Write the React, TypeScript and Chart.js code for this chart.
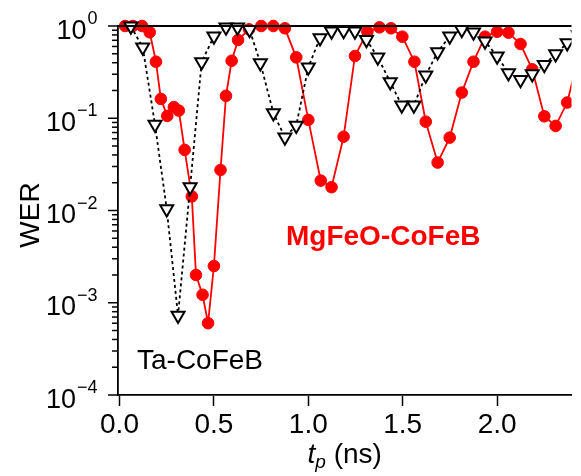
import React, { useEffect, useRef } from "react";
import { Chart, registerables } from "chart.js";

Chart.register(...registerables);

const FONT = "'Liberation Sans', Arial, Helvetica, sans-serif";

// MgFeO-CoFeB (red circles)
const mgX = [
  0.03, 0.07, 0.12, 0.16, 0.193, 0.219, 0.253, 0.288, 0.314, 0.345, 0.383, 0.405,
  0.44, 0.469, 0.5, 0.535, 0.564, 0.594, 0.628, 0.686, 0.751, 0.815, 0.876, 0.936,
  1.0, 1.066, 1.123, 1.187, 1.247, 1.313, 1.377, 1.438, 1.498, 1.562, 1.622, 1.685,
  1.749, 1.813, 1.875, 1.936, 2.0, 2.06, 2.124, 2.186, 2.25, 2.31, 2.371, 2.43,
];
const mgWER = [
  1.0, 1.0, 1.0, 0.855, 0.41, 0.162, 0.106, 0.132, 0.121, 0.0454, 0.0142, 0.002,
  0.00122, 0.0006, 0.0025, 0.0275, 0.175, 0.42, 0.705, 0.92, 1.0, 1.0, 0.944, 0.457,
  0.096, 0.0211, 0.0179, 0.063, 0.473, 0.867, 0.968, 0.944, 0.766, 0.41, 0.0918, 0.0331,
  0.0617, 0.19, 0.41, 0.766, 0.867, 0.847, 0.638, 0.339, 0.105, 0.0826, 0.148, 0.45,
];

// Ta-CoFeB (open inverted triangles)
const taX = [
  0.06, 0.123, 0.188, 0.25, 0.31, 0.374, 0.435, 0.5, 0.564, 0.625, 0.689, 0.746,
  0.815, 0.876, 0.936, 1.0, 1.062, 1.123, 1.187, 1.247, 1.308, 1.368, 1.434, 1.495,
  1.559, 1.622, 1.685, 1.749, 1.813, 1.875, 1.936, 2.0, 2.06, 2.124, 2.186, 2.25,
  2.31, 2.371, 2.43,
];
const taWER = [
  0.993, 0.588, 0.0853, 0.0104, 0.000727, 0.018, 0.407, 0.773, 0.968, 0.968, 0.912, 0.397,
  0.114, 0.0622, 0.0832, 0.357, 0.741, 0.876, 0.889, 0.876, 0.711, 0.458, 0.247, 0.138,
  0.138, 0.292, 0.523, 0.773, 0.912, 0.855, 0.683, 0.47, 0.31, 0.262, 0.302, 0.381,
  0.497, 0.654, 0.8,
];

const xTicks = [0, 0.5, 1.0, 1.5, 2.0];
const yDecades = [0, -1, -2, -3, -4];

export default function App() {
  const ref = useRef<HTMLCanvasElement>(null);

  useEffect(() => {
    const canvas = ref.current;
    if (!canvas) return;

    const decor = {
      id: "decor",
      afterDraw(chart: any) {
        const { ctx, chartArea, scales } = chart;
        const y = scales.y;
        ctx.save();
        ctx.strokeStyle = "#000";
        ctx.lineWidth = 1.8;
        // top frame line
        ctx.beginPath();
        ctx.moveTo(chartArea.left, chartArea.top);
        ctx.lineTo(chartArea.right, chartArea.top);
        ctx.stroke();
        // y ticks (major + minor)
        ctx.lineWidth = 1.5;
        for (const d of yDecades) {
          for (let m = 1; m <= 9; m++) {
            const v = m * Math.pow(10, d);
            if (v > 1.0001) continue;
            const py = y.getPixelForValue(v);
            const len = m === 1 ? 10 : 6;
            ctx.beginPath();
            ctx.moveTo(chartArea.left - len, py);
            ctx.lineTo(chartArea.left, py);
            ctx.stroke();
          }
        }
        // y tick labels 10^k
        ctx.fillStyle = "#000";
        ctx.textBaseline = "alphabetic";
        ctx.textAlign = "right";
        for (const d of yDecades) {
          const py = y.getPixelForValue(Math.pow(10, d));
          const base = py + 12.5;
          const exp = d === 0 ? "0" : "\u2212" + String(-d);
          ctx.font = `18px ${FONT}`;
          const ew = ctx.measureText(exp).width;
          ctx.fillText(exp, 97.5, base - 14.5);
          ctx.font = `27px ${FONT}`;
          ctx.fillText("10", 97.5 - ew - 1, base);
        }
        // y title
        ctx.save();
        ctx.translate(39, 215);
        ctx.rotate(-Math.PI / 2);
        ctx.textAlign = "center";
        ctx.font = `28px ${FONT}`;
        ctx.fillText("WER", 0, 0);
        ctx.restore();
        // x title: t_p (ns)
        ctx.textAlign = "left";
        const cx = (chartArea.left + chartArea.right) / 2;
        const base = 463;
        ctx.font = `italic 28px ${FONT}`;
        const wt = ctx.measureText("t").width;
        ctx.font = `italic 19px ${FONT}`;
        const wp = ctx.measureText("p").width;
        ctx.font = `28px ${FONT}`;
        const wr = ctx.measureText(" (ns)").width;
        let sx = cx - (wt + wp + wr) / 2;
        ctx.font = `italic 28px ${FONT}`;
        ctx.fillText("t", sx, base);
        sx += wt;
        ctx.font = `italic 19px ${FONT}`;
        ctx.fillText("p", sx, base + 5);
        sx += wp;
        ctx.font = `28px ${FONT}`;
        ctx.fillText(" (ns)", sx, base);
        // annotations
        ctx.font = `28px ${FONT}`;
        ctx.fillStyle = "#000";
        ctx.fillText("Ta-CoFeB", 137, 369);
        ctx.font = `bold 28px ${FONT}`;
        ctx.fillStyle = "#ff0000";
        ctx.fillText("MgFeO-CoFeB", 286, 245);
        ctx.restore();
      },
    };

    const chart = new Chart(canvas, {
      type: "line",
      data: {
        datasets: [
          {
            label: "Ta-CoFeB",
            data: taX.map((x, i) => ({ x, y: taWER[i] })),
            borderColor: "#000",
            borderWidth: 1.8,
            borderDash: [3, 3],
            pointStyle: "triangle",
            rotation: 180,
            pointRadius: 7.5,
            pointBackgroundColor: "#fff",
            pointBorderColor: "#000",
            pointBorderWidth: 2,
            tension: 0,
            clip: { left: 14, top: 14, right: 0, bottom: 14 } as any,
          },
          {
            label: "MgFeO-CoFeB",
            data: mgX.map((x, i) => ({ x, y: mgWER[i] })),
            borderColor: "#ff0000",
            borderWidth: 1.8,
            pointStyle: "circle",
            pointRadius: 5.8,
            pointBackgroundColor: "#ff0000",
            pointBorderColor: "#ff0000",
            pointBorderWidth: 1,
            tension: 0,
            clip: { left: 14, top: 14, right: 0, bottom: 14 } as any,
          },
        ],
      },
      options: {
        animation: false,
        responsive: false,
        devicePixelRatio: 1,
        layout: { padding: { top: 26, right: 0, bottom: 0, left: 0 } },
        plugins: {
          legend: { display: false },
          tooltip: { enabled: false },
          title: { display: false },
        },
        scales: {
          x: {
            type: "linear",
            min: -0.008,
            max: 2.394,
            afterBuildTicks: (scale: any) => {
              scale.ticks = xTicks.map((v) => ({ value: v }));
            },
            afterFit: (scale: any) => {
              scale.height = 81;
            },
            ticks: {
              color: "#000",
              font: { family: FONT, size: 28 },
              padding: 2,
              maxRotation: 0,
              autoSkip: false,
              callback: (v: any) => Number(v).toFixed(1),
            },
            grid: {
              display: true,
              drawOnChartArea: false,
              drawTicks: true,
              tickLength: 11,
              tickColor: "#000",
              tickWidth: 1.5,
            },
            border: { display: true, color: "#000", width: 1.8 },
          },
          y: {
            type: "logarithmic",
            min: 1e-4,
            max: 1,
            afterFit: (scale: any) => {
              scale.width = 118;
            },
            ticks: { display: false },
            grid: { display: false },
            border: { display: true, color: "#000", width: 1.8 },
          },
        },
      },
      plugins: [decor],
    });

    return () => chart.destroy();
  }, []);

  return (
    <canvas
      ref={ref}
      width={581}
      height={476}
      style={{ position: "fixed", left: 0, top: 0, display: "block" }}
    />
  );
}
